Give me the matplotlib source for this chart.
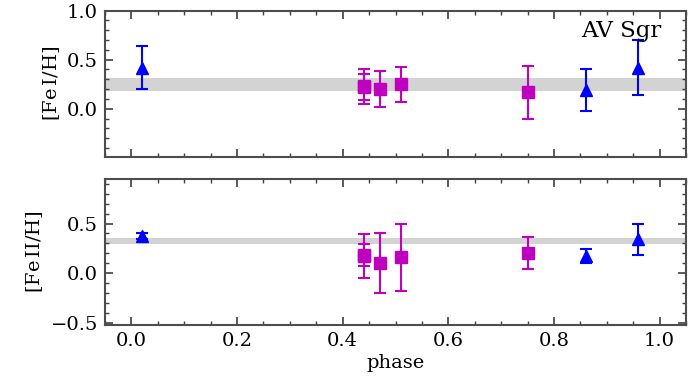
import numpy as np
import matplotlib.pyplot as plt
from matplotlib.ticker import MultipleLocator

plt.rcParams['font.family'] = 'DejaVu Serif'
plt.rcParams['mathtext.fontset'] = 'dejavuserif'

# Fe I (top panel)
fe1_phase_sq = [0.44, 0.44, 0.47, 0.51, 0.75]
fe1_val_sq = [0.23, 0.22, 0.20, 0.25, 0.17]
fe1_err_sq = [0.18, 0.13, 0.18, 0.18, 0.27]
fe1_phase_tri = [0.02, 0.86, 0.96]
fe1_val_tri = [0.42, 0.19, 0.42]
fe1_err_tri = [0.22, 0.21, 0.28]
fe1_mean, fe1_sigma = 0.245, 0.065

# Fe II (bottom panel)
fe2_phase_sq = [0.44, 0.44, 0.47, 0.51, 0.75]
fe2_val_sq = [0.17, 0.18, 0.10, 0.16, 0.20]
fe2_err_sq = [0.22, 0.11, 0.30, 0.34, 0.16]
fe2_phase_tri = [0.02, 0.86, 0.96]
fe2_val_tri = [0.37, 0.17, 0.34]
fe2_err_tri = [0.03, 0.07, 0.16]
fe2_mean, fe2_sigma = 0.32, 0.03

fig, (ax1, ax2) = plt.subplots(2, 1, figsize=(7, 3.79), dpi=100, sharex=True)
fig.subplots_adjust(left=0.15, right=0.98, top=0.972, bottom=0.1425, hspace=0.15)

panels = [
    (ax1, fe1_phase_sq, fe1_val_sq, fe1_err_sq, fe1_phase_tri, fe1_val_tri, fe1_err_tri,
     fe1_mean, fe1_sigma, r'[Fe$\,$I/H]', (-0.49, 1.0)),
    (ax2, fe2_phase_sq, fe2_val_sq, fe2_err_sq, fe2_phase_tri, fe2_val_tri, fe2_err_tri,
     fe2_mean, fe2_sigma, r'[Fe$\,$II/H]', (-0.52, 0.95)),
]

for ax, px, py, pe, tx, ty, te, m, s, lab, yl in panels:
    ax.axhspan(m - s, m + s, color='lightgray', zorder=0, lw=0)
    ax.errorbar(px, py, yerr=pe, fmt='s', color='m', ms=8.5, capsize=4.5,
                elinewidth=1.5, capthick=1.5, zorder=3)
    ax.errorbar(tx, ty, yerr=te, fmt='^', color='b', ms=9, capsize=4.5,
                elinewidth=1.5, capthick=1.5, zorder=3)
    ax.set_ylim(*yl)
    ax.set_xlim(-0.05, 1.05)
    ax.set_ylabel(lab, fontsize=14)
    ax.xaxis.set_major_locator(MultipleLocator(0.2))
    ax.xaxis.set_minor_locator(MultipleLocator(0.05))
    ax.yaxis.set_major_locator(MultipleLocator(0.5))
    ax.yaxis.set_minor_locator(MultipleLocator(0.1))
    ax.tick_params(which='both', direction='in', top=True, right=True,
                   labelsize=14, color='0.25', pad=5)
    ax.tick_params(which='major', length=6, width=1.2)
    ax.tick_params(which='minor', length=3, width=1.0)
    for sp in ax.spines.values():
        sp.set_color('0.3')
        sp.set_linewidth(1.5)

ax1.tick_params(labelbottom=False)
ax1.text(0.958, 0.86, 'AV Sgr', transform=ax1.transAxes, fontsize=16.5,
         ha='right', va='center')
ax2.set_xlabel('phase', fontsize=14, labelpad=3)

fig.savefig('out.png', dpi=100)
